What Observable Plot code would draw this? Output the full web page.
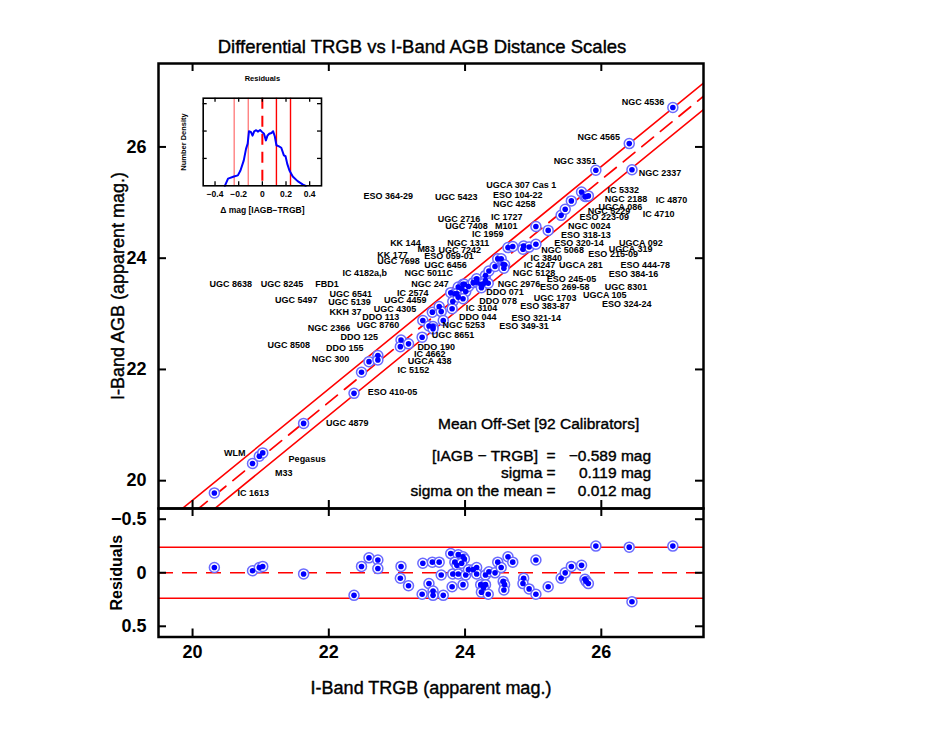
<!DOCTYPE html>
<html><head><meta charset="utf-8">
<script src="https://cdn.jsdelivr.net/npm/d3@7"></script>
<script src="https://cdn.jsdelivr.net/npm/@observablehq/plot@0.6"></script>
<style>
body{margin:0;background:#fff;}
#wrap{position:relative;width:951px;height:735px;overflow:hidden;background:#fff;}
#wrap svg{position:absolute;}
</style></head><body><div id="wrap"></div>
<script>
// ---- data ----
const offset = -0.589;      // mean [IAGB - TRGB]
const sigma = 0.119;
const sigmaMean = 0.012;
const nCal = 92;

const trgb = [20.32,20.88,20.98,21.03,21.63,22.37,22.48,22.59,22.72,22.72,23.06,23.05,23.17,23.38,23.47,23.52,23.62,23.65,23.37,23.53,23.53,23.68,23.79,23.90,23.85,23.88,23.97,23.99,23.95,23.82,23.90,24.01,23.81,23.97,24.05,24.12,24.17,24.17,24.30,24.35,24.44,24.23,24.30,24.27,24.24,24.34,24.48,24.53,24.63,24.70,24.56,24.58,24.57,24.86,24.85,24.94,25.04,25.04,25.22,25.41,25.47,25.56,25.71,25.76,25.78,25.81,25.92,26.41,26.45,27.05];
const agb  = [19.78,20.31,20.44,20.50,21.03,21.57,21.95,22.14,22.25,22.17,22.53,22.41,22.46,22.88,22.78,23.03,23.13,23.04,22.58,22.77,22.73,22.88,23.38,23.48,23.36,23.36,23.53,23.53,23.45,23.22,23.30,23.40,23.09,23.27,23.49,23.56,23.63,23.57,23.69,23.77,23.85,23.53,23.60,23.54,23.47,23.55,23.99,23.99,24.19,24.21,23.89,23.88,23.82,24.22,24.16,24.20,24.25,24.57,24.50,24.77,24.88,25.03,25.19,25.11,25.11,25.12,25.58,26.06,25.59,26.71];

const labelNames = ["NGC 4536","NGC 4565","NGC 3351","NGC 2337","IC 5332","NGC 2188","IC 4870","NGC 5229","UGCA 086","IC 4710","ESO 223-09","NGC 0024","ESO 318-13","ESO 320-14","UGCA 092","UGCA 319","NGC 5068","ESO 215-09","IC 3840","IC 4247","UGCA 281","ESO 444-78","NGC 5128","ESO 384-16","ESO 245-05","ESO 269-58","UGC 8301","NGC 2976","DDO 071","UGCA 105","UGC 1703","DDO 078","ESO 324-24","ESO 383-87","IC 3104","ESO 321-14","DDO 044","ESO 349-31","NGC 5253","UGC 8651","DDO 190","IC 4662","UGCA 438","IC 5152","ESO 410-05","UGC 4879","NGC 300","UGC 8508","DDO 155","DDO 125","NGC 2366","UGC 8760","DDO 113","KKH 37","UGC 4305","UGC 5139","UGC 5497","UGC 4459","UGC 6541","IC 2574","UGC 8638","UGC 8245","FBD1","NGC 247","IC 4182a,b","NGC 5011C","UGC 7698","UGC 6456","KK 177","ESO 059-01","M83","UGC 7242","KK 144","NGC 1311","IC 1959","UGC 7408","M101","UGC 2716","IC 1727","ESO 364-29","UGC 5423","UGCA 307 Cas 1","ESO 104-22","NGC 4258","WLM","Pegasus","M33","IC 1613"];
const labelX = [26.30,25.65,25.30,26.55,26.09,26.05,26.80,25.80,25.96,26.61,25.68,25.51,25.41,25.31,26.26,26.11,25.12,25.81,24.96,24.86,25.38,26.28,24.70,26.11,25.20,25.10,26.05,24.48,24.31,25.73,25.01,24.21,26.01,24.81,24.01,24.68,23.91,24.50,23.67,23.51,23.30,23.25,23.16,23.01,22.57,21.96,21.75,21.10,21.96,22.17,21.69,22.41,22.49,22.01,22.66,21.99,21.21,22.81,22.01,23.00,20.25,21.00,21.80,23.21,22.20,23.11,22.71,23.40,22.71,23.40,23.30,23.61,22.90,23.74,24.10,23.71,24.44,23.60,24.38,22.51,23.56,24.31,24.41,24.41,20.46,21.41,21.21,20.66];
const labelY = [26.81,26.18,25.74,25.53,25.23,25.06,25.05,24.84,24.92,24.80,24.73,24.58,24.42,24.27,24.28,24.17,24.15,24.08,24.01,23.88,23.88,23.88,23.74,23.72,23.63,23.48,23.48,23.53,23.39,23.33,23.29,23.23,23.18,23.13,23.10,22.93,22.94,22.77,22.79,22.61,22.40,22.28,22.15,21.98,21.60,21.03,22.18,22.44,22.38,22.59,22.74,22.79,22.94,23.03,23.09,23.21,23.24,23.24,23.35,23.37,23.53,23.53,23.53,23.53,23.73,23.73,23.94,23.88,24.06,24.03,24.17,24.15,24.27,24.28,24.44,24.58,24.58,24.70,24.73,25.12,25.10,25.32,25.14,24.97,20.49,20.39,20.14,19.77];

const xTicks = [20,22,24,26];
const yTicks = [20,22,24,26];
const residTicks = [-0.5,0,0.5];
const residTickLabels = ["\u22120.5","0","0.5"];

// inset density curve of residuals
const histResid = [-0.317,-0.29,-0.24,-0.207,-0.185,-0.157,-0.138,-0.124,-0.113,-0.097,-0.083,-0.069,-0.052,-0.036,-0.019,-0.003,0.014,0.03,0.044,0.058,0.077,0.091,0.105,0.119,0.141,0.16,0.182,0.196,0.21,0.229,0.257,0.298,0.34,0.367];
const histDensity = [0,0.26,0.34,0.38,0.56,0.93,1.35,1.54,1.99,1.97,1.83,1.99,2.03,1.98,2.04,1.97,1.9,1.66,1.84,1.9,1.93,1.99,1.81,1.48,1.44,1.39,1.11,1.08,0.81,0.56,0.34,0.17,0.05,0];
const insetXTicks = [-0.4,-0.2,0,0.2,0.4];
const insetXTickLabels = ["\u22120.4","\u22120.2","0","0.2","0.4"];
const insetYTicks = [1,2,3];

// ---- build ----
const FONT = "'Liberation Sans', Arial, Helvetica, sans-serif";
const XD = [19.5, 27.5];
const pts = trgb.map((t, i) => ({trgb: t, agb: agb[i], resid: t + offset - agb[i]}));
const labels = labelNames.map((n, i) => ({name: n, x: labelX[i], y: labelY[i]}));
const refLine = off => XD.map(x => ({x, y: x + off}));
const hist = histResid.map((r, i) => ({r, d: histDensity[i]}));
const RED = "#ff0000";
const TK = 8;
const HEAVY = {fill: "black", stroke: "black", strokeWidth: 0.4};
const wrap = document.getElementById("wrap");

function ticks(xt, yt, W, H, len, sw) {
  return [
    Plot.ruleX(xt, {x: d => d, insetTop: H - len, stroke: "black", strokeWidth: sw}),
    Plot.ruleX(xt, {x: d => d, insetBottom: H - len, stroke: "black", strokeWidth: sw}),
    Plot.ruleY(yt, {y: d => d, insetRight: W - len, stroke: "black", strokeWidth: sw}),
    Plot.ruleY(yt, {y: d => d, insetLeft: W - len, stroke: "black", strokeWidth: sw})
  ];
}

// main panel
const mL = 158, mR = 248, mT = 63, mH = 508;
const statY = [20.45, 20.14, 19.82];
const main = Plot.plot({
  width: 951, height: mH, marginLeft: mL, marginRight: mR, marginTop: mT, marginBottom: 0,
  x: {domain: XD, axis: null},
  y: {domain: XD, axis: null},
  style: {background: "transparent", fontFamily: FONT, overflow: "visible"},
  marks: [
    Plot.line(refLine(offset), {x: "x", y: "y", stroke: RED, strokeWidth: 1.7, strokeDasharray: "15,9", clip: true}),
    Plot.line(refLine(offset + 2 * sigma), {x: "x", y: "y", stroke: RED, strokeWidth: 1.6, clip: true}),
    Plot.line(refLine(offset - 2 * sigma), {x: "x", y: "y", stroke: RED, strokeWidth: 1.6, clip: true}),
    Plot.dot(pts, {x: "trgb", y: "agb", r: 5, fill: "white", stroke: "#6a6aff", strokeWidth: 1.5}),
    Plot.dot(pts, {x: "trgb", y: "agb", r: 2.8, fill: "#0000ff"}),
    Plot.text(labels, {x: "x", y: "y", text: "name", textAnchor: "start", lineAnchor: "middle", fontSize: 9, fontWeight: "bold", fill: "black"}),
    Plot.text([`Mean Off-Set [${nCal} Calibrators]`], {x: 25.08, y: 21.02, text: d => d, textAnchor: "middle", lineAnchor: "middle", fontSize: 15.5, ...HEAVY}),
    Plot.text(["[IAGB \u2212 TRGB]  =", "sigma =", "sigma on the mean ="], {x: 25.33, y: (d, i) => statY[i], text: d => d, textAnchor: "end", lineAnchor: "middle", fontSize: 15.5, ...HEAVY}),
    Plot.text([`\u2212${Math.abs(offset).toFixed(3)} mag`, `${sigma.toFixed(3)} mag`, `${sigmaMean.toFixed(3)} mag`], {x: 26.73, y: (d, i) => statY[i], text: d => d, textAnchor: "end", lineAnchor: "middle", fontSize: 15.5, ...HEAVY}),
    Plot.frame({stroke: "black", strokeWidth: 2.5}),
    ...ticks(xTicks, yTicks, 951 - mL - mR, mH - mT, TK, 2),
    Plot.text(yTicks, {frameAnchor: "left", y: d => d, text: d => String(d), textAnchor: "end", lineAnchor: "middle", dx: -12, fontSize: 18, fontWeight: "bold", fill: "black"}),
    Plot.text(["I-Band AGB (apparent mag.)"], {x: XD[0], y: (XD[0] + XD[1]) / 2, dx: -40, rotate: -90, text: d => d, textAnchor: "middle", lineAnchor: "middle", fontSize: 18, ...HEAVY}),
    Plot.text(["Differential TRGB vs I-Band AGB Distance Scales"], {frameAnchor: "top", dy: -16, dx: -9, text: d => d, textAnchor: "middle", lineAnchor: "middle", fontSize: 18.5, ...HEAVY})
  ]
});
main.style.left = "0px"; main.style.top = "0px";
wrap.appendChild(main);

// residual panel
const rTop = 508, rH = 227, rB = 98.5;
const resPlot = Plot.plot({
  width: 951, height: rH, marginLeft: mL, marginRight: mR, marginTop: 0, marginBottom: rB,
  x: {domain: XD, axis: null},
  y: {domain: [0.6, -0.6], axis: null},
  style: {background: "transparent", fontFamily: FONT, overflow: "visible"},
  marks: [
    Plot.ruleY([0], {stroke: RED, strokeWidth: 1.7, strokeDasharray: "15,9"}),
    Plot.ruleY([-2 * sigma, 2 * sigma], {stroke: RED, strokeWidth: 1.6}),
    Plot.dot(pts, {x: "trgb", y: "resid", r: 5, fill: "white", stroke: "#6a6aff", strokeWidth: 1.5}),
    Plot.dot(pts, {x: "trgb", y: "resid", r: 2.8, fill: "#0000ff"}),
    Plot.frame({stroke: "black", strokeWidth: 2.5}),
    ...ticks(xTicks, residTicks, 951 - mL - mR, rH - rB, TK, 2),
    Plot.text(residTicks, {frameAnchor: "left", y: d => d, text: (d, i) => residTickLabels[i], textAnchor: "end", lineAnchor: "middle", dx: -12, fontSize: 18, fontWeight: "bold", fill: "black"}),
    Plot.text(xTicks, {frameAnchor: "bottom", x: d => d, text: d => String(d), dy: 15, textAnchor: "middle", lineAnchor: "middle", fontSize: 18, fontWeight: "bold", fill: "black"}),
    Plot.text(["Residuals"], {x: XD[0], y: 0, dx: -42, rotate: -90, text: d => d, textAnchor: "middle", lineAnchor: "middle", fontSize: 16, fontWeight: "bold", fill: "black"}),
    Plot.text(["I-Band TRGB (apparent mag.)"], {frameAnchor: "bottom", dy: 51, text: d => d, textAnchor: "middle", lineAnchor: "middle", fontSize: 18, ...HEAVY})
  ]
});
resPlot.style.left = "0px"; resPlot.style.top = rTop + "px";
wrap.appendChild(resPlot);

// inset histogram
const iW = 200, iH = 170, iL = 52.7, iR = 29, iT = 37.7, iBm = 44.7;
const inset = Plot.plot({
  width: iW, height: iH, marginLeft: iL, marginRight: iR, marginTop: iT, marginBottom: iBm,
  x: {domain: [-0.5, 0.5], axis: null},
  y: {domain: [0, 3.2], axis: null},
  style: {background: "transparent", fontFamily: FONT, overflow: "visible"},
  marks: [
    Plot.ruleX([-2 * sigma, -sigma], {x: d => d, stroke: "#ff8080", strokeWidth: 1.4}),
    Plot.ruleX([sigma, 2 * sigma], {x: d => d, stroke: RED, strokeWidth: 1.4}),
    Plot.ruleX([0], {x: d => d, stroke: RED, strokeWidth: 2, strokeDasharray: "11,7"}),
    Plot.line(hist, {x: "r", y: "d", stroke: "#0000ff", strokeWidth: 2}),
    Plot.frame({stroke: "black", strokeWidth: 1.6}),
    ...ticks(insetXTicks, insetYTicks, iW - iL - iR, iH - iT - iBm, 4, 1.3),
    Plot.text(insetXTicks, {frameAnchor: "bottom", x: d => d, text: (d, i) => insetXTickLabels[i], dy: 8, textAnchor: "middle", lineAnchor: "middle", fontSize: 8.5, fontWeight: "bold", fill: "black"}),
    Plot.text(["\u0394 mag [IAGB\u2212TRGB]"], {frameAnchor: "bottom", dy: 24.7, text: d => d, textAnchor: "middle", lineAnchor: "middle", fontSize: 8.5, fontWeight: "bold", fill: "black"}),
    Plot.text(["Residuals"], {frameAnchor: "top", dy: -19.4, text: d => d, textAnchor: "middle", lineAnchor: "middle", fontSize: 7.5, fontWeight: "bold", fill: "black"}),
    Plot.text(["Number Density"], {x: -0.5, y: 1.6, dx: -20, rotate: -90, text: d => d, textAnchor: "middle", lineAnchor: "middle", fontSize: 7.5, fontWeight: "bold", fill: "black"})
  ]
});
inset.style.left = "150px"; inset.style.top = "60px";
wrap.appendChild(inset);
</script></body></html>
